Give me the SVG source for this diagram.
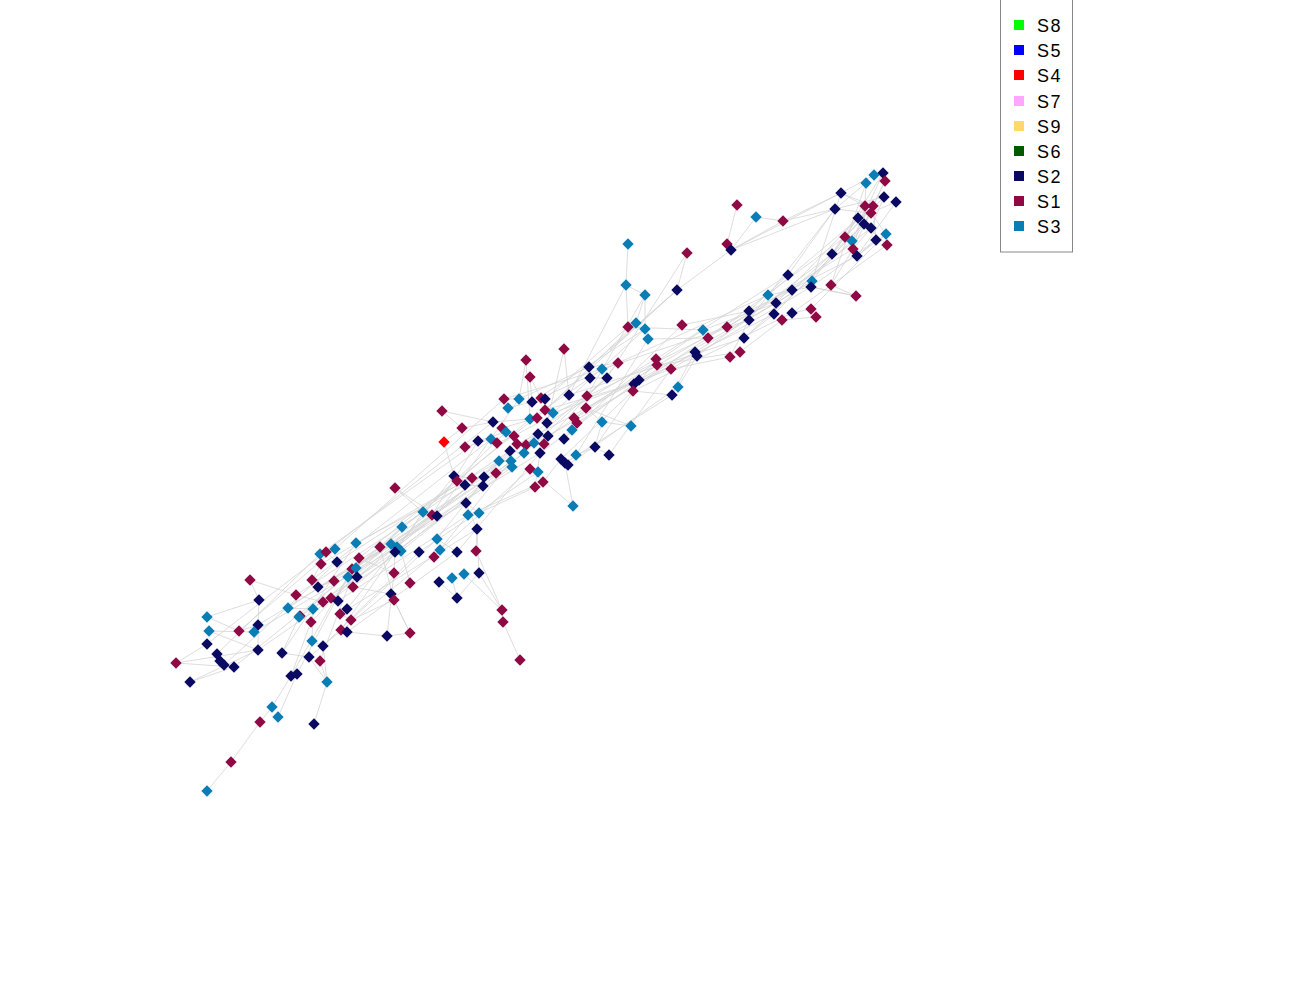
<svg xmlns="http://www.w3.org/2000/svg" xmlns:xlink="http://www.w3.org/1999/xlink" width="1300" height="1000" viewBox="0 0 1300 1000">
<style>
.e{fill:none;stroke:#d4d4d4;stroke-width:0.8}
.a{fill:#8f0a44}
.b{fill:#0a0a62}
.c{fill:#0a7db5}
.r{fill:#ff0000}
.lt{font-family:"Liberation Sans",Arial,sans-serif;font-size:18px;letter-spacing:1.5px;fill:#000}
</style>
<defs>
<path id="d" d="M0 -5.7L5.7 0L0 5.7L-5.7 0Z"/>
</defs>
<rect width="1300" height="1000" fill="#fff"/>
<g id="edges">
<path class="e" d="M207 791L231 762L260 722L272 707L291 676M278 717L297 674M314 724L327 682M327 682L309 657M520 660L503 622L502 610L479 573M479 573L457 598L439 582M479 573L477 529M457 598L452 578M387 636L410 633L394 600M387 636L394 573M410 633L391 594M394 600L380 547M410 583L401 551M394 573L395 552M444 442L462 428M444 442L454 476M442 411L462 428M442 411L493 422M564 349L569 395M564 349L547 423M628 244L626 285L628 327M626 285L645 295L645 329M645 295L636 323M737 205L727 244M687 253L677 290M756 217L783 221M756 217L731 250M783 221L731 250M783 221L841 193M783 221L835 209M677 290L731 250M731 250L835 209M731 250L841 193M677 290L610 350M677 290L589 367M677 290L545 410M573 506L565 463M573 506L530 469M609 455L595 447L602 422M631 426L602 422M631 426L586 408M856 296L831 285M856 296L811 287M176 663L207 644M176 663L258 650M176 663L234 667M190 682L234 667M190 682L258 650M207 617L239 631L258 625M207 617L259 600M209 631L254 632M209 631L258 650M250 580L259 600M250 580L296 595M259 600L258 625M258 650L258 625M526 360L530 419M530 377L541 398M395 488L437 516M395 488L423 512M477 529L466 503M466 503L479 513M457 552L437 539M476 551L477 529M502 610L476 551M502 610L464 574"/>
<path class="e" d="M337 562L510 451M352 569L524 453M321 564L499 461M356 568L530 419M348 577L538 434M357 577L547 423M326 552L493 422M335 549L504 399M320 554L478 441M359 558L545 410M334 581L540 453M353 587L511 461M312 580L491 439M318 587L466 503M296 595L423 512M331 598L436 516M338 601L468 515M311 622L402 527M340 614L477 529M351 620L437 539M313 609L432 515M288 608L380 547M299 617L395 552M258 625L391 544M254 632L397 547M258 650L401 551M234 667L356 568M224 665L337 562M217 654L320 554M207 644L326 552M239 631L335 549M323 646L419 552M309 657L440 550M347 632L457 552M282 653L356 543M291 676L352 569M297 674L348 577M320 661L359 558M300 616L402 527M341 630L423 512M347 609L454 476M356 543L465 485M380 547L484 477M391 544L496 473M397 547L510 451M401 551L524 453M419 552L538 472M440 550L530 469M434 557L511 461M395 552L512 467M402 527L472 478M423 512L506 432M436 516L519 399M437 539L499 461M468 515L543 482M479 513L535 487M432 515L478 441M457 552L540 453"/>
<path class="e" d="M532 402L645 329M545 399L628 327M537 418L636 323M547 423L656 359M541 398L618 363M553 413L671 369M564 439L682 325M548 436L695 352M577 423L708 338M574 418L703 330M586 397L727 327M569 395L744 338M586 408L749 311M602 369L749 320M618 363L768 295M634 384L774 314M639 380L776 303M633 391L792 313M656 359L788 275M671 369L811 287M695 352L812 281M697 356L832 254M708 338L845 237M744 338L852 241M749 311L857 256M727 327L853 249M749 320L835 209M774 314L864 224M776 303L858 218M792 290L871 228M811 287L876 240M812 281L841 193M792 313L887 245M811 309L886 234M831 285L866 183M768 295L873 206M524 453L607 378M540 453L634 384M538 434L639 380M530 419L590 378M519 399L589 367M504 399L602 369M548 436L657 365M561 459L633 391M565 463L672 395M568 465L678 387M576 455L648 339M595 447L656 359M609 455L671 369M544 444L618 363M526 445L607 378M514 436L587 396M545 410L630 385M553 413L645 329M569 395L626 285M587 396L645 295M607 378L687 253M628 327L703 330M648 339L708 338M657 365L740 352M671 369L730 357M678 387L697 356M672 395L695 352M682 325L749 311M703 330L776 303M727 327L792 290M740 352L782 320M730 357L749 320M744 338L774 314M749 311L788 275M768 295L811 287M776 303L812 281M782 320L816 317M792 313L811 309M811 287L856 296M788 275L835 209M792 290L832 254M812 281L845 237M831 285L853 249"/>
<path class="e" d="M832 254L883 173M835 209L884 197M841 193L874 175M857 256L896 202M845 237L865 206M852 241L872 213M853 249L885 181M864 224L866 183M835 209L866 183M841 193L865 206M858 218L896 202M871 228L884 197M876 240L873 206M886 234L871 213M887 245L864 224M857 256L876 240M832 254L858 218M845 237L873 206M853 249L871 228M864 224L885 181M841 193L873 206M835 209L871 213M857 256L886 234M832 254L864 224M852 241L883 173M845 237L884 197M853 249L865 206"/>
<path class="e" d="M465 447L491 439M462 428L493 422M478 441L506 432M497 443L514 436M504 399L519 399M508 408L532 402M493 422L530 419M502 428L537 418M517 444L538 434M534 443L548 436M510 451L524 453M499 461L511 461M454 476L472 478M457 481L484 477M465 485L483 486M496 473L512 467M530 469L538 472M543 482L561 459M535 487L540 453M541 398L545 399M526 360L519 399M530 377L532 402M545 410L553 413M574 418L577 423M572 430L564 439M595 447L576 455M602 422L586 408M589 367L618 363M590 378L607 378M634 384L639 380M633 391L672 395M656 359L671 369M312 580L321 564M318 587L334 581M296 595L323 602M288 608L313 609M300 616L311 622M312 641L323 646M282 653L309 657M340 614L351 620M341 630L347 632M331 598L338 601M352 569L357 577M320 554L335 549M326 552L337 562M291 676L297 674M327 682L320 661M313 609L312 641M299 617L282 653M311 622L291 676M323 646L327 682M347 632L387 636M351 620L394 600M353 587L391 594M359 558L394 573"/>
</g>
<g id="nodes">
<g id="n1" class="b"><use href="#d" x="883" y="173"/></g>
<g id="n2" class="c"><use href="#d" x="874" y="175"/></g>
<g id="n3" class="c"><use href="#d" x="866" y="183"/></g>
<g id="n4" class="a"><use href="#d" x="885" y="181"/></g>
<g id="n5" class="b"><use href="#d" x="841" y="193"/></g>
<g id="n6" class="b"><use href="#d" x="884" y="197"/></g>
<g id="n7" class="b"><use href="#d" x="896" y="202"/></g>
<g id="n8" class="b"><use href="#d" x="835" y="209"/></g>
<g id="n9" class="a"><use href="#d" x="865" y="206"/></g>
<g id="n10" class="a"><use href="#d" x="873" y="206"/></g>
<g id="n11" class="a"><use href="#d" x="871" y="213"/></g>
<g id="n12" class="b"><use href="#d" x="858" y="218"/></g>
<g id="n13" class="b"><use href="#d" x="864" y="224"/></g>
<g id="n14" class="b"><use href="#d" x="871" y="228"/></g>
<g id="n15" class="c"><use href="#d" x="886" y="234"/></g>
<g id="n16" class="a"><use href="#d" x="845" y="237"/></g>
<g id="n17" class="c"><use href="#d" x="852" y="241"/></g>
<g id="n18" class="b"><use href="#d" x="876" y="240"/></g>
<g id="n19" class="a"><use href="#d" x="887" y="245"/></g>
<g id="n20" class="a"><use href="#d" x="853" y="249"/></g>
<g id="n21" class="b"><use href="#d" x="832" y="254"/></g>
<g id="n22" class="b"><use href="#d" x="857" y="256"/></g>
<g id="n23" class="a"><use href="#d" x="737" y="205"/></g>
<g id="n24" class="c"><use href="#d" x="756" y="217"/></g>
<g id="n25" class="a"><use href="#d" x="783" y="221"/></g>
<g id="n26" class="a"><use href="#d" x="727" y="244"/></g>
<g id="n27" class="b"><use href="#d" x="731" y="250"/></g>
<g id="n28" class="a"><use href="#d" x="687" y="253"/></g>
<g id="n29" class="b"><use href="#d" x="677" y="290"/></g>
<g id="n30" class="b"><use href="#d" x="788" y="275"/></g>
<g id="n31" class="c"><use href="#d" x="812" y="281"/></g>
<g id="n32" class="a"><use href="#d" x="831" y="285"/></g>
<g id="n33" class="b"><use href="#d" x="792" y="290"/></g>
<g id="n34" class="b"><use href="#d" x="811" y="287"/></g>
<g id="n35" class="a"><use href="#d" x="856" y="296"/></g>
<g id="n36" class="c"><use href="#d" x="768" y="295"/></g>
<g id="n37" class="b"><use href="#d" x="776" y="303"/></g>
<g id="n38" class="b"><use href="#d" x="749" y="311"/></g>
<g id="n39" class="b"><use href="#d" x="774" y="314"/></g>
<g id="n40" class="b"><use href="#d" x="792" y="313"/></g>
<g id="n41" class="a"><use href="#d" x="811" y="309"/></g>
<g id="n42" class="a"><use href="#d" x="816" y="317"/></g>
<g id="n43" class="a"><use href="#d" x="782" y="320"/></g>
<g id="n44" class="b"><use href="#d" x="749" y="320"/></g>
<g id="n45" class="a"><use href="#d" x="682" y="325"/></g>
<g id="n46" class="c"><use href="#d" x="703" y="330"/></g>
<g id="n47" class="a"><use href="#d" x="727" y="327"/></g>
<g id="n48" class="a"><use href="#d" x="708" y="338"/></g>
<g id="n49" class="b"><use href="#d" x="744" y="338"/></g>
<g id="n50" class="b"><use href="#d" x="695" y="352"/></g>
<g id="n51" class="b"><use href="#d" x="697" y="356"/></g>
<g id="n52" class="a"><use href="#d" x="740" y="352"/></g>
<g id="n53" class="a"><use href="#d" x="730" y="357"/></g>
<g id="n54" class="c"><use href="#d" x="628" y="244"/></g>
<g id="n55" class="c"><use href="#d" x="626" y="285"/></g>
<g id="n56" class="c"><use href="#d" x="645" y="295"/></g>
<g id="n57" class="a"><use href="#d" x="628" y="327"/></g>
<g id="n58" class="c"><use href="#d" x="636" y="323"/></g>
<g id="n59" class="c"><use href="#d" x="645" y="329"/></g>
<g id="n60" class="c"><use href="#d" x="648" y="339"/></g>
<g id="n61" class="a"><use href="#d" x="564" y="349"/></g>
<g id="n62" class="a"><use href="#d" x="656" y="359"/></g>
<g id="n63" class="a"><use href="#d" x="657" y="365"/></g>
<g id="n64" class="a"><use href="#d" x="671" y="369"/></g>
<g id="n65" class="b"><use href="#d" x="589" y="367"/></g>
<g id="n66" class="c"><use href="#d" x="602" y="369"/></g>
<g id="n67" class="a"><use href="#d" x="618" y="363"/></g>
<g id="n68" class="b"><use href="#d" x="590" y="378"/></g>
<g id="n69" class="b"><use href="#d" x="607" y="378"/></g>
<g id="n70" class="b"><use href="#d" x="639" y="380"/></g>
<g id="n71" class="b"><use href="#d" x="634" y="384"/></g>
<g id="n72" class="a"><use href="#d" x="633" y="391"/></g>
<g id="n73" class="c"><use href="#d" x="678" y="387"/></g>
<g id="n74" class="b"><use href="#d" x="672" y="395"/></g>
<g id="n75" class="b"><use href="#d" x="569" y="395"/></g>
<g id="n76" class="a"><use href="#d" x="587" y="396"/></g>
<g id="n77" class="a"><use href="#d" x="526" y="360"/></g>
<g id="n78" class="a"><use href="#d" x="530" y="377"/></g>
<g id="n79" class="a"><use href="#d" x="504" y="399"/></g>
<g id="n80" class="c"><use href="#d" x="519" y="399"/></g>
<g id="n81" class="b"><use href="#d" x="532" y="402"/></g>
<g id="n82" class="a"><use href="#d" x="541" y="398"/></g>
<g id="n83" class="b"><use href="#d" x="545" y="399"/></g>
<g id="n84" class="a"><use href="#d" x="586" y="408"/></g>
<g id="n85" class="c"><use href="#d" x="508" y="408"/></g>
<g id="n86" class="a"><use href="#d" x="545" y="410"/></g>
<g id="n87" class="c"><use href="#d" x="553" y="413"/></g>
<g id="n88" class="a"><use href="#d" x="442" y="411"/></g>
<g id="n89" class="b"><use href="#d" x="493" y="422"/></g>
<g id="n90" class="c"><use href="#d" x="530" y="419"/></g>
<g id="n91" class="a"><use href="#d" x="537" y="418"/></g>
<g id="n92" class="b"><use href="#d" x="547" y="423"/></g>
<g id="n93" class="a"><use href="#d" x="574" y="418"/></g>
<g id="n94" class="a"><use href="#d" x="577" y="423"/></g>
<g id="n95" class="c"><use href="#d" x="602" y="422"/></g>
<g id="n96" class="c"><use href="#d" x="631" y="426"/></g>
<g id="n97" class="a"><use href="#d" x="462" y="428"/></g>
<g id="n98" class="a"><use href="#d" x="502" y="428"/></g>
<g id="n99" class="c"><use href="#d" x="506" y="432"/></g>
<g id="n100" class="c"><use href="#d" x="572" y="430"/></g>
<g id="n101" class="a"><use href="#d" x="514" y="436"/></g>
<g id="n102" class="b"><use href="#d" x="538" y="434"/></g>
<g id="n103" class="b"><use href="#d" x="548" y="436"/></g>
<g id="n104" class="c"><use href="#d" x="491" y="439"/></g>
<g id="n105" class="b"><use href="#d" x="478" y="441"/></g>
<g id="n106" class="a"><use href="#d" x="497" y="443"/></g>
<g id="n107" class="a"><use href="#d" x="517" y="444"/></g>
<g id="n108" class="a"><use href="#d" x="526" y="445"/></g>
<g id="n109" class="c"><use href="#d" x="534" y="443"/></g>
<g id="n110" class="a"><use href="#d" x="544" y="444"/></g>
<g id="n111" class="b"><use href="#d" x="564" y="439"/></g>
<g id="n112" class="r"><use href="#d" x="444" y="442"/></g>
<g id="n113" class="a"><use href="#d" x="465" y="447"/></g>
<g id="n114" class="b"><use href="#d" x="510" y="451"/></g>
<g id="n115" class="c"><use href="#d" x="524" y="453"/></g>
<g id="n116" class="b"><use href="#d" x="540" y="453"/></g>
<g id="n117" class="c"><use href="#d" x="576" y="455"/></g>
<g id="n118" class="b"><use href="#d" x="595" y="447"/></g>
<g id="n119" class="b"><use href="#d" x="609" y="455"/></g>
<g id="n120" class="c"><use href="#d" x="499" y="461"/></g>
<g id="n121" class="c"><use href="#d" x="511" y="461"/></g>
<g id="n122" class="c"><use href="#d" x="512" y="467"/></g>
<g id="n123" class="b"><use href="#d" x="561" y="459"/></g>
<g id="n124" class="b"><use href="#d" x="565" y="463"/></g>
<g id="n125" class="b"><use href="#d" x="568" y="465"/></g>
<g id="n126" class="a"><use href="#d" x="530" y="469"/></g>
<g id="n127" class="c"><use href="#d" x="538" y="472"/></g>
<g id="n128" class="a"><use href="#d" x="496" y="473"/></g>
<g id="n129" class="b"><use href="#d" x="454" y="476"/></g>
<g id="n130" class="a"><use href="#d" x="457" y="481"/></g>
<g id="n131" class="a"><use href="#d" x="472" y="478"/></g>
<g id="n132" class="b"><use href="#d" x="484" y="477"/></g>
<g id="n133" class="b"><use href="#d" x="465" y="485"/></g>
<g id="n134" class="b"><use href="#d" x="483" y="486"/></g>
<g id="n135" class="a"><use href="#d" x="543" y="482"/></g>
<g id="n136" class="a"><use href="#d" x="535" y="487"/></g>
<g id="n137" class="b"><use href="#d" x="466" y="503"/></g>
<g id="n138" class="c"><use href="#d" x="573" y="506"/></g>
<g id="n139" class="c"><use href="#d" x="468" y="515"/></g>
<g id="n140" class="c"><use href="#d" x="479" y="513"/></g>
<g id="n141" class="a"><use href="#d" x="432" y="515"/></g>
<g id="n142" class="b"><use href="#d" x="437" y="516"/></g>
<g id="n143" class="a"><use href="#d" x="395" y="488"/></g>
<g id="n144" class="c"><use href="#d" x="423" y="512"/></g>
<g id="n145" class="c"><use href="#d" x="402" y="527"/></g>
<g id="n146" class="b"><use href="#d" x="477" y="529"/></g>
<g id="n147" class="c"><use href="#d" x="437" y="539"/></g>
<g id="n148" class="a"><use href="#d" x="380" y="547"/></g>
<g id="n149" class="c"><use href="#d" x="391" y="544"/></g>
<g id="n150" class="c"><use href="#d" x="397" y="547"/></g>
<g id="n151" class="c"><use href="#d" x="401" y="551"/></g>
<g id="n152" class="b"><use href="#d" x="395" y="552"/></g>
<g id="n153" class="b"><use href="#d" x="419" y="552"/></g>
<g id="n154" class="c"><use href="#d" x="440" y="550"/></g>
<g id="n155" class="b"><use href="#d" x="457" y="552"/></g>
<g id="n156" class="a"><use href="#d" x="476" y="551"/></g>
<g id="n157" class="a"><use href="#d" x="434" y="557"/></g>
<g id="n158" class="a"><use href="#d" x="394" y="573"/></g>
<g id="n159" class="a"><use href="#d" x="410" y="583"/></g>
<g id="n160" class="b"><use href="#d" x="439" y="582"/></g>
<g id="n161" class="c"><use href="#d" x="452" y="578"/></g>
<g id="n162" class="c"><use href="#d" x="464" y="574"/></g>
<g id="n163" class="b"><use href="#d" x="479" y="573"/></g>
<g id="n164" class="b"><use href="#d" x="391" y="594"/></g>
<g id="n165" class="b"><use href="#d" x="457" y="598"/></g>
<g id="n166" class="a"><use href="#d" x="394" y="600"/></g>
<g id="n167" class="c"><use href="#d" x="356" y="543"/></g>
<g id="n168" class="c"><use href="#d" x="335" y="549"/></g>
<g id="n169" class="c"><use href="#d" x="320" y="554"/></g>
<g id="n170" class="a"><use href="#d" x="326" y="552"/></g>
<g id="n171" class="b"><use href="#d" x="337" y="562"/></g>
<g id="n172" class="a"><use href="#d" x="359" y="558"/></g>
<g id="n173" class="a"><use href="#d" x="321" y="564"/></g>
<g id="n174" class="a"><use href="#d" x="352" y="569"/></g>
<g id="n175" class="c"><use href="#d" x="356" y="568"/></g>
<g id="n176" class="c"><use href="#d" x="348" y="577"/></g>
<g id="n177" class="b"><use href="#d" x="357" y="577"/></g>
<g id="n178" class="a"><use href="#d" x="312" y="580"/></g>
<g id="n179" class="a"><use href="#d" x="334" y="581"/></g>
<g id="n180" class="b"><use href="#d" x="318" y="587"/></g>
<g id="n181" class="a"><use href="#d" x="353" y="587"/></g>
<g id="n182" class="a"><use href="#d" x="296" y="595"/></g>
<g id="n183" class="a"><use href="#d" x="331" y="598"/></g>
<g id="n184" class="a"><use href="#d" x="323" y="602"/></g>
<g id="n185" class="b"><use href="#d" x="338" y="601"/></g>
<g id="n186" class="b"><use href="#d" x="347" y="609"/></g>
<g id="n187" class="c"><use href="#d" x="288" y="608"/></g>
<g id="n188" class="c"><use href="#d" x="313" y="609"/></g>
<g id="n189" class="a"><use href="#d" x="300" y="616"/></g>
<g id="n190" class="a"><use href="#d" x="340" y="614"/></g>
<g id="n191" class="a"><use href="#d" x="311" y="622"/></g>
<g id="n192" class="a"><use href="#d" x="351" y="620"/></g>
<g id="n193" class="a"><use href="#d" x="341" y="630"/></g>
<g id="n194" class="b"><use href="#d" x="347" y="632"/></g>
<g id="n195" class="b"><use href="#d" x="387" y="636"/></g>
<g id="n196" class="a"><use href="#d" x="410" y="633"/></g>
<g id="n197" class="c"><use href="#d" x="312" y="641"/></g>
<g id="n198" class="b"><use href="#d" x="323" y="646"/></g>
<g id="n199" class="b"><use href="#d" x="282" y="653"/></g>
<g id="n200" class="b"><use href="#d" x="309" y="657"/></g>
<g id="n201" class="a"><use href="#d" x="320" y="661"/></g>
<g id="n202" class="a"><use href="#d" x="250" y="580"/></g>
<g id="n203" class="b"><use href="#d" x="259" y="600"/></g>
<g id="n204" class="c"><use href="#d" x="207" y="617"/></g>
<g id="n205" class="c"><use href="#d" x="299" y="617"/></g>
<g id="n206" class="c"><use href="#d" x="209" y="631"/></g>
<g id="n207" class="a"><use href="#d" x="239" y="631"/></g>
<g id="n208" class="b"><use href="#d" x="258" y="625"/></g>
<g id="n209" class="c"><use href="#d" x="254" y="632"/></g>
<g id="n210" class="b"><use href="#d" x="207" y="644"/></g>
<g id="n211" class="b"><use href="#d" x="258" y="650"/></g>
<g id="n212" class="b"><use href="#d" x="217" y="654"/></g>
<g id="n213" class="b"><use href="#d" x="220" y="661"/></g>
<g id="n214" class="b"><use href="#d" x="224" y="665"/></g>
<g id="n215" class="b"><use href="#d" x="234" y="667"/></g>
<g id="n216" class="a"><use href="#d" x="176" y="663"/></g>
<g id="n217" class="b"><use href="#d" x="190" y="682"/></g>
<g id="n218" class="b"><use href="#d" x="291" y="676"/></g>
<g id="n219" class="b"><use href="#d" x="297" y="674"/></g>
<g id="n220" class="c"><use href="#d" x="327" y="682"/></g>
<g id="n221" class="c"><use href="#d" x="272" y="707"/></g>
<g id="n222" class="c"><use href="#d" x="278" y="717"/></g>
<g id="n223" class="a"><use href="#d" x="260" y="722"/></g>
<g id="n224" class="b"><use href="#d" x="314" y="724"/></g>
<g id="n225" class="a"><use href="#d" x="231" y="762"/></g>
<g id="n226" class="c"><use href="#d" x="207" y="791"/></g>
<g id="n227" class="a"><use href="#d" x="502" y="610"/></g>
<g id="n228" class="a"><use href="#d" x="503" y="622"/></g>
<g id="n229" class="a"><use href="#d" x="520" y="660"/></g>
</g>
<g id="legend">
<rect x="1000.5" y="-1" width="72" height="253" fill="#fff" stroke="#888" stroke-width="1"/>
<rect x="1014" y="20" width="10" height="10" fill="#00ff00"/>
<rect x="1014" y="45" width="10" height="10" fill="#0000ff"/>
<rect x="1014" y="70" width="10" height="10" fill="#ff0000"/>
<rect x="1014" y="96" width="10" height="10" fill="#ffa6ff"/>
<rect x="1014" y="121" width="10" height="10" fill="#ffd966"/>
<rect x="1014" y="146" width="10" height="10" fill="#005a00"/>
<rect x="1014" y="171" width="10" height="10" fill="#0a0a62"/>
<rect x="1014" y="196" width="10" height="10" fill="#8f0a44"/>
<rect x="1014" y="221" width="10" height="10" fill="#0a7db5"/>
<text class="lt" x="1037" y="32">S8</text>
<text class="lt" x="1037" y="57">S5</text>
<text class="lt" x="1037" y="82">S4</text>
<text class="lt" x="1037" y="108">S7</text>
<text class="lt" x="1037" y="133">S9</text>
<text class="lt" x="1037" y="158">S6</text>
<text class="lt" x="1037" y="183">S2</text>
<text class="lt" x="1037" y="208">S1</text>
<text class="lt" x="1037" y="233">S3</text>
</g>
</svg>
